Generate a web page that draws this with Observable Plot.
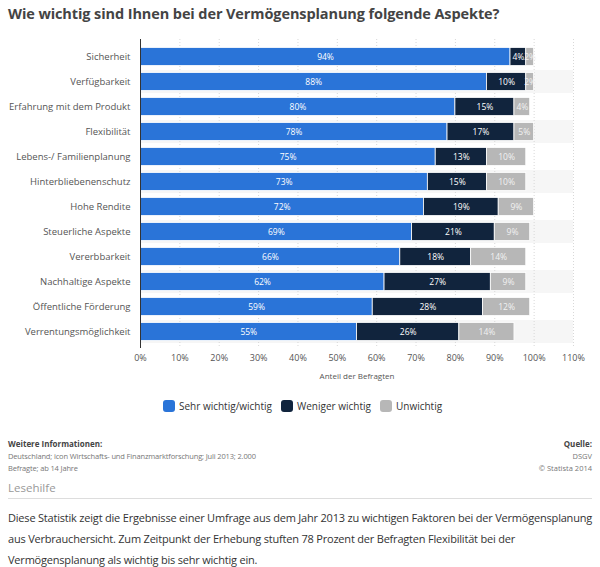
<!DOCTYPE html>
<html>
<head>
<meta charset="utf-8">
<script src="https://cdn.jsdelivr.net/npm/d3@7"></script>
<script src="https://cdn.jsdelivr.net/npm/@observablehq/plot@0.6"></script>
<style>
  body { margin: 0; background: #fff; font-family: "Open Sans", sans-serif; width: 600px; }
  #title { position: absolute; left: 8px; top: 4px; font-size: 14.5px; font-weight: bold; color: #444; letter-spacing: -0.1px; }
  #chart { position: absolute; left: 0; top: 35px; }
  #legend { position: absolute; top: 399px; left: 163px; font-size: 10px; color: #333; display: flex; gap: 0; white-space: nowrap; }
  .li { display: flex; align-items: center; margin-right: 9px; }
  .sw { width: 12px; height: 12px; border-radius: 3px; margin-right: 4px; }
  #info { position: absolute; left: 8px; top: 438px; font-size: 7.5px; letter-spacing: -0.15px; color: #777; line-height: 12px; }
  #info b, #src b { color: #444; letter-spacing: 0; font-size: 8px; }
  #src { position: absolute; right: 8px; top: 438px; font-size: 7.5px; color: #777; line-height: 12px; text-align: right; }
  #lese { position: absolute; left: 8px; top: 480px; width: 584px; font-size: 11.5px; color: #999; border-bottom: 1px solid #ddd; padding-bottom: 3px; }
  #text { position: absolute; left: 8px; top: 507px; width: 590px; font-size: 11px; letter-spacing: -0.2px; color: #333; line-height: 21px; }
</style>
</head>
<body>
<div id="title">Wie wichtig sind Ihnen bei der Vermögensplanung folgende Aspekte?</div>
<div id="chart"></div>
<div id="legend"></div>
<div id="info"><b>Weitere Informationen:</b><br>Deutschland; icon Wirtschafts- und Finanzmarktforschung; Juli 2013; 2.000<br>Befragte; ab 14 Jahre</div>
<div id="src"><b>Quelle:</b><br>DSGV<br>© Statista 2014</div>
<div id="lese">Lesehilfe</div>
<div id="text">Diese Statistik zeigt die Ergebnisse einer Umfrage aus dem Jahr 2013 zu wichtigen Faktoren bei der Vermögensplanung<br>aus Verbrauchersicht. Zum Zeitpunkt der Erhebung stuften 78 Prozent der Befragten Flexibilität bei der<br>Vermögensplanung als wichtig bis sehr wichtig ein.</div>
<script>
const categories = [
  "Sicherheit", "Verfügbarkeit", "Erfahrung mit dem Produkt", "Flexibilität",
  "Lebens-/ Familienplanung", "Hinterbliebenenschutz", "Hohe Rendite",
  "Steuerliche Aspekte", "Vererbbarkeit", "Nachhaltige Aspekte",
  "Öffentliche Förderung", "Verrentungsmöglichkeit"
];
const seriesNames = ["Sehr wichtig/wichtig", "Weniger wichtig", "Unwichtig"];
const sehrWichtig = [94, 88, 80, 78, 75, 73, 72, 69, 66, 62, 59, 55];
const wenigerWichtig = [4, 10, 15, 17, 13, 15, 19, 21, 18, 27, 28, 26];
const unwichtig = [2, 2, 4, 5, 10, 10, 9, 9, 14, 9, 12, 14];
const colors = ["#2a74d8", "#11243d", "#b7b7b7"];
const labelColors = ["#ffffff", "#ffffff", "#f2f2f2"];
const xTicks = [0, 10, 20, 30, 40, 50, 60, 70, 80, 90, 100, 110];

const seriesValues = [sehrWichtig, wenigerWichtig, unwichtig];
const data = [];
categories.forEach((c, i) => {
  seriesNames.forEach((s, j) => data.push({cat: c, series: s, value: seriesValues[j][i]}));
});
const stripes = categories.filter((c, i) => i % 2 === 1);

const chart = Plot.plot({
  width: 600,
  height: 350,
  marginLeft: 140,
  marginRight: 27,
  marginTop: 4,
  marginBottom: 37,
  style: {fontFamily: "Open Sans, sans-serif"},
  x: {domain: [0, 110]},
  y: {domain: categories, padding: 0},
  color: {domain: seriesNames, range: colors},
  marks: [
    Plot.barX(stripes, {x1: 0, x2: 110, y: d => d, fill: "#f6f6f6", insetTop: 1, insetBottom: 1}),
    Plot.ruleX(xTicks.slice(1), {stroke: "#d8d8d8", strokeDasharray: "1,2"}),
    Plot.barX(data, Plot.stackX({x: "value", y: "cat", fill: "series", order: seriesNames, insetTop: 3.5, insetBottom: 3.5, stroke: "#fff", strokeWidth: 0.8})),
    Plot.text(data, Plot.stackX({x: "value", y: "cat", z: "series", order: seriesNames,
      text: d => d.value + "%", fill: d => labelColors[seriesNames.indexOf(d.series)], fontSize: 8.5})),
    Plot.ruleX([0], {stroke: "#333", strokeWidth: 1}),
    Plot.axisY({tickSize: 0, tickPadding: 10, fontSize: 9.5, color: "#555", label: null}),
    Plot.axisX({ticks: xTicks, tickSize: 0, tickPadding: 6, tickFormat: d => d + "%", fontSize: 9, color: "#555",
      label: "Anteil der Befragten", labelAnchor: "center", labelArrow: "none", labelOffset: 30})
  ]
});
const lab = chart.querySelector("g[aria-label='x-axis label']");
if (lab) lab.setAttribute("font-size", "8");
document.getElementById("chart").appendChild(chart);

const legend = document.getElementById("legend");
seriesNames.forEach((s, i) => {
  const li = document.createElement("div");
  li.className = "li";
  li.innerHTML = `<div class="sw" style="background:${colors[i]}"></div><span>${s}</span>`;
  legend.appendChild(li);
});
</script>
</body>
</html>
